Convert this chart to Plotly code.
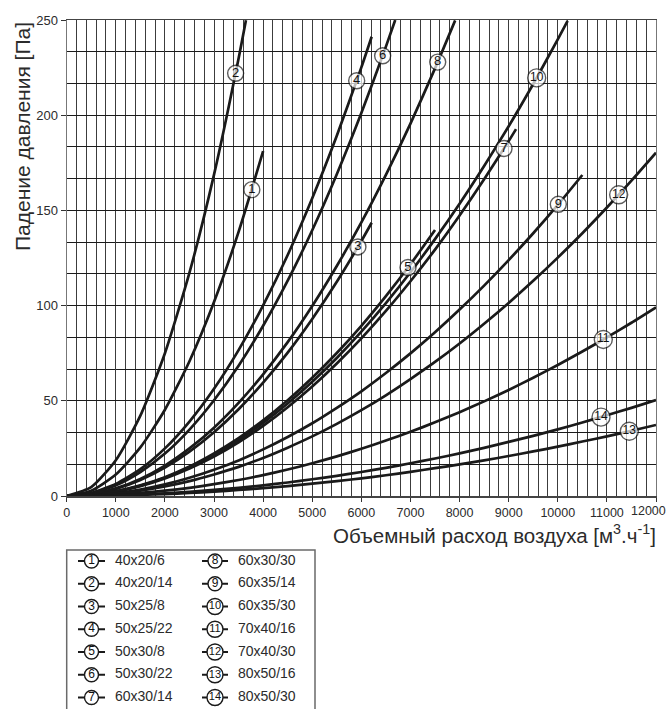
import plotly.graph_objects as go

W, H = 669, 709

# ---------------- data ----------------
curve_names = ["40x20/6", "40x20/14", "50x25/8", "50x25/22", "50x30/8", "50x30/22", "60x30/14",
               "60x30/30", "60x35/14", "60x35/30", "70x40/16", "70x40/30", "80x50/16", "80x50/30"]

flow_1 = [0, 500, 1000, 1500, 2000, 2500, 3000, 3500, 4000]
drop_1 = [0, 2.8, 11.3, 25.5, 45.3, 70.8, 101.9, 138.7, 181.1]

flow_2 = [0, 500, 1000, 1500, 2000, 2500, 3000, 3500, 3650]
drop_2 = [0, 4.7, 18.8, 42.2, 75.0, 117.3, 168.8, 229.8, 249.9]

flow_3 = [0, 500, 1000, 1500, 2000, 2500, 3000, 3500, 4000, 4500, 5000, 5500, 6000, 6210]
drop_3 = [0, 0.9, 3.7, 8.4, 14.9, 23.3, 33.5, 45.6, 59.5, 75.3, 93.0, 112.5, 133.9, 143.5]

flow_4 = [0, 500, 1000, 1500, 2000, 2500, 3000, 3500, 4000, 4500, 5000, 5500, 6000, 6210]
drop_4 = [0, 1.6, 6.3, 14.1, 25.0, 39.1, 56.3, 76.6, 100.1, 126.6, 156.4, 189.2, 225.1, 241.2]

flow_5 = [0, 500, 1000, 1500, 2000, 2500, 3000, 3500, 4000, 4500, 5000, 5500, 6000, 6500, 7000, 7500]
drop_5 = [0, 0.6, 2.5, 5.6, 9.9, 15.5, 22.4, 30.4, 39.7, 50.3, 62.1, 75.1, 89.4, 105.0, 121.7, 139.7]

flow_6 = [0, 500, 1000, 1500, 2000, 2500, 3000, 3500, 4000, 4500, 5000, 5500, 6000, 6500, 6690]
drop_6 = [0, 1.4, 5.6, 12.6, 22.3, 34.9, 50.3, 68.4, 89.4, 113.1, 139.6, 169.0, 201.1, 236.0, 250.0]

flow_7 = [0, 500, 1000, 1500, 2000, 2500, 3000, 3500, 4000, 4500, 5000, 5500, 6000, 6500, 7000,
          7500, 8000, 8500, 9000, 9150]
drop_7 = [0, 0.6, 2.3, 5.2, 9.2, 14.4, 20.7, 28.2, 36.8, 46.6, 57.5, 69.6, 82.8, 97.2, 112.8,
          129.4, 147.3, 166.3, 186.4, 192.7]

flow_8 = [0, 500, 1000, 1500, 2000, 2500, 3000, 3500, 4000, 4500, 5000, 5500, 6000, 6500, 7000,
          7500, 7910]
drop_8 = [0, 1.0, 4.0, 9.0, 16.0, 25.0, 35.9, 48.9, 63.9, 80.8, 99.8, 120.8, 143.7, 168.7, 195.6,
          224.6, 249.8]

flow_9 = [0, 500, 1000, 1500, 2000, 2500, 3000, 3500, 4000, 4500, 5000, 5500, 6000, 6500, 7000,
          7500, 8000, 8500, 9000, 9500, 10000, 10500]
drop_9 = [0, 0.4, 1.5, 3.4, 6.1, 9.6, 13.8, 18.7, 24.5, 31.0, 38.2, 46.3, 55.0, 64.6, 74.9,
          86.0, 97.9, 110.5, 123.9, 138.0, 152.9, 168.6]

flow_10 = [0, 500, 1000, 1500, 2000, 2500, 3000, 3500, 4000, 4500, 5000, 5500, 6000, 6500, 7000,
           7500, 8000, 8500, 9000, 9500, 10000, 10200]
drop_10 = [0, 0.6, 2.4, 5.4, 9.6, 15.0, 21.6, 29.4, 38.4, 48.6, 60.0, 72.5, 86.3, 101.3, 117.5,
           134.9, 153.5, 173.3, 194.2, 216.4, 239.8, 249.5]

flow_11 = [0, 500, 1000, 1500, 2000, 2500, 3000, 3500, 4000, 4500, 5000, 5500, 6000, 6500, 7000,
           7500, 8000, 8500, 9000, 9500, 10000, 10500, 11000, 11500, 12000]
drop_11 = [0, 0.2, 0.7, 1.6, 2.8, 4.3, 6.2, 8.4, 11.0, 13.9, 17.2, 20.8, 24.8, 29.1, 33.7,
           38.7, 44.0, 49.7, 55.7, 62.1, 68.8, 75.9, 83.3, 91.0, 99.1]

flow_12 = [0, 500, 1000, 1500, 2000, 2500, 3000, 3500, 4000, 4500, 5000, 5500, 6000, 6500, 7000,
           7500, 8000, 8500, 9000, 9500, 10000, 10500, 11000, 11500, 12000]
drop_12 = [0, 0.3, 1.3, 2.8, 5.0, 7.8, 11.3, 15.3, 20.0, 25.4, 31.3, 37.9, 45.1, 52.9, 61.4,
           70.4, 80.1, 90.5, 101.4, 113.0, 125.2, 138.0, 151.5, 165.6, 180.3]

flow_13 = [0, 500, 1000, 1500, 2000, 2500, 3000, 3500, 4000, 4500, 5000, 5500, 6000, 6500, 7000,
           7500, 8000, 8500, 9000, 9500, 10000, 10500, 11000, 11500, 12000]
drop_13 = [0, 0.1, 0.3, 0.6, 1.0, 1.6, 2.3, 3.2, 4.1, 5.2, 6.5, 7.8, 9.3, 10.9, 12.7,
           14.6, 16.6, 18.7, 21.0, 23.4, 25.9, 28.6, 31.3, 34.3, 37.3]

flow_14 = [0, 500, 1000, 1500, 2000, 2500, 3000, 3500, 4000, 4500, 5000, 5500, 6000, 6500, 7000,
           7500, 8000, 8500, 9000, 9500, 10000, 10500, 11000, 11500, 12000]
drop_14 = [0, 0.1, 0.4, 0.8, 1.4, 2.2, 3.2, 4.3, 5.6, 7.1, 8.8, 10.6, 12.6, 14.8, 17.2,
           19.7, 22.4, 25.3, 28.4, 31.6, 35.0, 38.6, 42.4, 46.3, 50.4]

# positions of the circled numbers on the curves (data units)
label_flow = [3770, 3440, 5930, 5905, 6950, 6434, 8905, 7555, 10011, 9570, 10927, 11240, 11456, 10880]
label_drop = [160.9, 222.0, 130.8, 218.1, 120.0, 231.2, 182.5, 227.9, 153.2, 219.6, 82.2, 158.2, 34.0, 41.4]

x_ticks = [0, 1000, 2000, 3000, 4000, 5000, 6000, 7000, 8000, 9000, 10000, 11000, 12000]
y_ticks = [0, 50, 100, 150, 200, 250]

curves = [(flow_1, drop_1), (flow_2, drop_2), (flow_3, drop_3), (flow_4, drop_4),
          (flow_5, drop_5), (flow_6, drop_6), (flow_7, drop_7), (flow_8, drop_8),
          (flow_9, drop_9), (flow_10, drop_10), (flow_11, drop_11), (flow_12, drop_12),
          (flow_13, drop_13), (flow_14, drop_14)]

# ---------------- styling ----------------
FONT = "Liberation Sans, Arial, Helvetica, sans-serif"
INK = "#1a1a1a"
TXT = "#2b2b2b"

def px_x(p):
    return p / W

def px_y(p):
    return 1 - p / H

PLOT_L, PLOT_R, PLOT_T, PLOT_B = 66.7, 656, 20, 496

fig = go.Figure()

for (fx, dy) in curves:
    fig.add_trace(go.Scatter(
        x=fx, y=dy, mode="lines",
        line=dict(color=INK, width=2.7, shape="spline", smoothing=0.6),
        hoverinfo="skip", showlegend=False, xaxis="x", yaxis="y"))

nums = [str(i + 1) for i in range(len(curve_names))]
fig.add_trace(go.Scatter(
    x=label_flow, y=label_drop, mode="markers+text",
    text=nums, textposition="middle center",
    textfont=dict(family=FONT, size=[13 if len(n) == 1 else 12 for n in nums], color="#111"),
    marker=dict(symbol="circle", color="white",
                size=[16 if len(n) == 1 else 18 for n in nums],
                line=dict(color=INK, width=1.4)),
    hoverinfo="skip", showlegend=False, cliponaxis=False, xaxis="x", yaxis="y"))

# ---------------- legend (drawn in its own pixel-unit axes) ----------------
LEG_L, LEG_R, LEG_T = 66.7, 315, 550
row0, row_step = 561, 22.75
cols = [dict(line0=78, line1=105, mark=91.5, text=115),
        dict(line0=202, line1=228, mark=215, text=238)]

for i, n in enumerate(nums):
    c = cols[i // 7]
    ry = row0 + (i % 7) * row_step
    fig.add_trace(go.Scatter(
        x=[c["line0"], c["line1"]], y=[ry, ry], mode="lines",
        line=dict(color=INK, width=2.2), hoverinfo="skip", showlegend=False,
        xaxis="x2", yaxis="y2"))
    fig.add_trace(go.Scatter(
        x=[c["mark"]], y=[ry], mode="markers+text", text=[n], textposition="middle center",
        textfont=dict(family=FONT, size=12 if len(n) == 1 else 11, color="#111"),
        marker=dict(symbol="circle", color="white", size=14 if len(n) == 1 else 16,
                    line=dict(color=INK, width=1.4)),
        hoverinfo="skip", showlegend=False, xaxis="x2", yaxis="y2"))
    fig.add_trace(go.Scatter(
        x=[c["text"]], y=[ry], mode="text", text=[curve_names[i]], textposition="middle right",
        textfont=dict(family=FONT, size=14, color=TXT),
        hoverinfo="skip", showlegend=False, xaxis="x2", yaxis="y2"))

fig.add_shape(type="rect", xref="paper", yref="paper",
              x0=px_x(LEG_L), x1=px_x(LEG_R), y0=px_y(H + 5), y1=px_y(LEG_T),
              line=dict(color="#6a6a6a", width=1.5), fillcolor="rgba(0,0,0,0)", layer="above")

# ---------------- axes ----------------
fig.update_layout(
    width=W, height=H,
    margin=dict(l=0, r=0, t=0, b=0, autoexpand=False),
    paper_bgcolor="white", plot_bgcolor="white",
    font=dict(family=FONT, color=TXT),
    xaxis=dict(
        domain=[px_x(PLOT_L), px_x(PLOT_R)], range=[0, 12000],
        tickvals=x_ticks, ticktext=[str(v) if v < 12000 else "" for v in x_ticks],
        tickfont=dict(size=12.5, color=TXT), ticks="outside", ticklen=4, tickcolor="#333",
        showgrid=True, gridcolor="#3c3c3c", gridwidth=1,
        minor=dict(dtick=200, showgrid=True, gridcolor="#3c3c3c", gridwidth=1, ticks=""),
        showline=True, linecolor="#444", linewidth=1.5, mirror=True,
        zeroline=False, fixedrange=True),
    yaxis=dict(
        domain=[px_y(PLOT_B), px_y(PLOT_T)], range=[0, 250],
        tickvals=y_ticks, ticktext=[str(v) for v in y_ticks],
        tickfont=dict(size=13, color=TXT), ticks="outside", ticklen=5, tickcolor="#333",
        showgrid=True, gridcolor="#1a1a1a", gridwidth=1,
        minor=dict(tick0=0, dtick=50 / 3, showgrid=True, gridcolor="#1a1a1a", gridwidth=1, ticks=""),
        showline=True, linecolor="#777", linewidth=1.2, mirror=True,
        zeroline=False, fixedrange=True),
    xaxis2=dict(domain=[px_x(LEG_L), px_x(LEG_R)], range=[LEG_L, LEG_R], visible=False,
                fixedrange=True, anchor="y2"),
    yaxis2=dict(domain=[0, px_y(LEG_T)], range=[H, LEG_T], visible=False,
                fixedrange=True, anchor="x2"),
)

# last x tick label, kept inside the page as in the reference
fig.add_annotation(text=str(x_ticks[-1]), xref="paper", yref="paper",
                   x=px_x(668), y=px_y(511), xanchor="right", yanchor="middle",
                   showarrow=False, font=dict(family=FONT, size=12.5, color=TXT))

fig.add_annotation(text="Падение давления [Па]", xref="paper", yref="paper",
                   x=px_x(22), y=px_y(137), xanchor="center", yanchor="middle",
                   textangle=-90, showarrow=False, font=dict(family=FONT, size=21, color=TXT))
fig.add_annotation(text="Объемный расход воздуха [м<sup>3</sup>.ч<sup>-1</sup>]",
                   xref="paper", yref="paper", x=px_x(658), y=px_y(534),
                   xanchor="right", yanchor="middle", showarrow=False,
                   font=dict(family=FONT, size=20.5, color=TXT))

# the page body has a default margin; remove it so the figure fills the window exactly
fig.write_html("out.html", config={"displayModeBar": False, "staticPlot": True},
               post_script="document.body.style.margin='0';document.body.style.overflow='hidden';")
